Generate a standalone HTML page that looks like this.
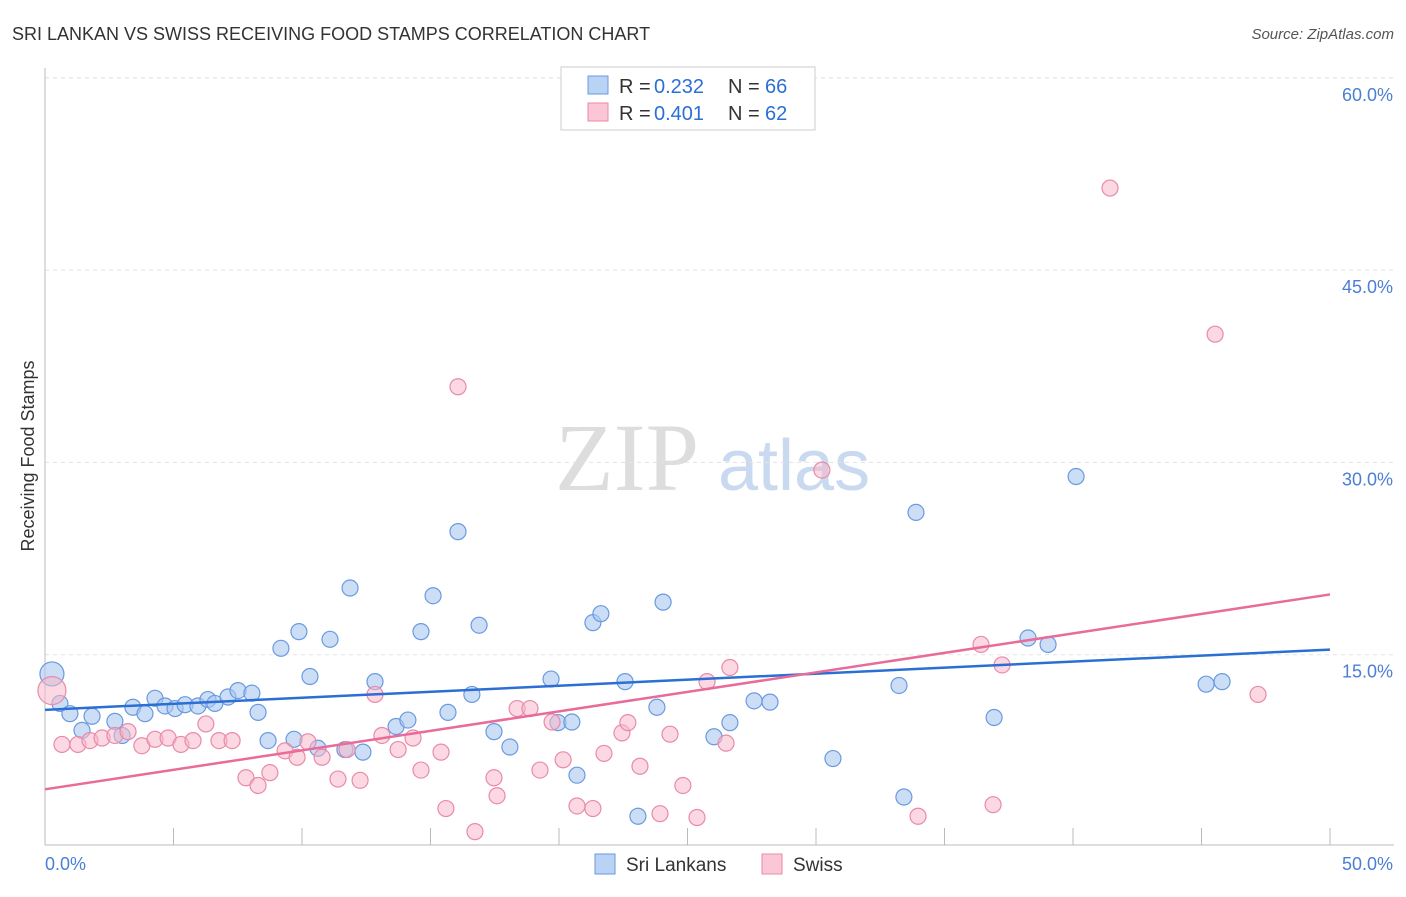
<!DOCTYPE html>
<html><head><meta charset="utf-8"><style>
body{margin:0;background:#fff;font-family:"Liberation Sans",sans-serif}
svg text{font-family:"Liberation Sans",sans-serif}
</style></head><body>
<svg id="chart" width="1406" height="892" xmlns="http://www.w3.org/2000/svg">
<text x="12" y="40" font-size="18" fill="#333">SRI LANKAN VS SWISS RECEIVING FOOD STAMPS CORRELATION CHART</text>
<text x="1394" y="39" font-size="15" fill="#555" text-anchor="end" font-style="italic">Source: ZipAtlas.com</text>
<text x="555" y="490" font-size="96" fill="#ddd" style="font-family:'Liberation Serif',serif">ZIP</text>
<text x="718" y="490" font-size="72" fill="#c8d9f0">atlas</text>
<text transform="translate(34,456) rotate(-90)" font-size="18" fill="#333" text-anchor="middle">Receiving Food Stamps</text>
<g id="grid"></g><g id="pts"></g><g id="lines"></g>
<g>
<rect x="561" y="67" width="254" height="63" fill="#fff" stroke="#ccc"/>
<rect x="588" y="76" width="20" height="18" fill="#b9d3f5" stroke="#6a9ae0"/>
<rect x="588" y="103" width="20" height="18" fill="#fbc6d6" stroke="#e88aab"/>
<text x="619" y="93" font-size="20" fill="#333">R = </text><text x="654" y="93" font-size="20" fill="#2b6fd4">0.232</text>
<text x="728" y="93" font-size="20" fill="#333">N = </text><text x="765" y="93" font-size="20" fill="#2b6fd4">66</text>
<text x="619" y="120" font-size="20" fill="#333">R = </text><text x="654" y="120" font-size="20" fill="#2b6fd4">0.401</text>
<text x="728" y="120" font-size="20" fill="#333">N = </text><text x="765" y="120" font-size="20" fill="#2b6fd4">62</text>
</g>
<g>
<rect x="595" y="854" width="20" height="20" fill="#b9d3f5" stroke="#6a9ae0"/>
<text x="626" y="871" font-size="19" fill="#333">Sri Lankans</text>
<rect x="762" y="854" width="20" height="20" fill="#fbc6d6" stroke="#e88aab"/>
<text x="793" y="871" font-size="19" fill="#333">Swiss</text>
</g>
</svg>
<script>
const yTicks=[15,30,45,60];
const yTickLabels=["15.0%","30.0%","45.0%","60.0%"];
const xTickLabels=["0.0%","50.0%"];
const blueX=[0.27,0.58,0.97,1.83,1.44,2.72,3.0,3.42,3.89,4.28,4.67,5.06,5.45,5.95,6.34,6.61,7.12,7.51,8.05,8.29,8.68,9.18,9.69,9.88,10.31,10.62,11.09,11.67,11.87,12.37,12.84,13.66,14.12,14.63,15.1,15.68,16.07,16.61,16.89,17.47,18.09,19.69,19.96,20.5,20.7,21.32,21.63,22.57,23.07,23.81,24.05,26.03,26.65,27.59,28.21,30.66,33.23,33.42,33.89,36.93,38.25,39.03,40.12,45.18,45.8];
const blueY=[13.5,11.2,10.4,10.2,9.1,9.8,8.7,10.9,10.4,11.6,11.0,10.8,11.1,11.0,11.5,11.2,11.7,12.2,12.0,10.5,8.3,15.5,8.4,16.8,13.3,7.7,16.2,7.6,20.2,7.4,12.9,9.4,9.9,16.8,19.6,10.5,24.6,11.9,17.3,9.0,7.8,13.1,9.7,9.75,5.6,17.5,18.2,12.9,2.4,10.9,19.1,8.6,9.7,11.4,11.3,6.9,12.6,3.9,26.1,10.1,16.3,15.8,28.9,12.7,12.9];
const pinkX=[0.27,0.66,1.28,1.75,2.22,2.72,3.23,3.77,4.28,4.79,5.29,5.76,6.26,6.77,7.28,7.82,8.29,8.75,9.34,9.81,10.23,10.78,11.4,11.75,12.26,12.84,13.11,13.74,14.32,14.63,15.41,15.6,16.07,16.73,17.47,17.59,18.37,18.87,19.26,19.73,20.16,20.7,21.32,21.75,22.45,22.68,23.15,23.93,24.32,24.82,25.37,25.76,26.5,26.65,30.23,33.97,36.42,36.89,37.24,41.44,45.53,47.2];
const pinkY=[12.2,8.0,8.0,8.3,8.5,8.7,9.0,7.9,8.4,8.5,8.0,8.3,9.6,8.3,8.3,5.4,4.8,5.8,7.5,7.0,8.2,7.0,5.3,7.6,5.2,11.9,8.7,7.6,8.5,6.0,7.4,3.0,35.9,1.2,5.4,4.0,10.8,10.8,6.0,9.75,6.8,3.2,3.0,7.3,8.9,9.7,6.3,2.6,8.8,4.8,2.3,12.9,8.1,14.0,29.4,2.4,15.8,3.3,14.2,51.4,40.0,11.9];
const blueTrend=[10.7,15.4];
const pinkTrend=[4.5,19.7];
const NS="http://www.w3.org/2000/svg";
const X=v=>45+v/50*1285, Y=v=>847-v*12.82;
function mk(t,a,p){const e=document.createElementNS(NS,t);for(const k in a)e.setAttribute(k,a[k]);p.appendChild(e);return e;}
const g=document.getElementById('grid');
yTicks.forEach((t,i)=>{
 const l=mk('line',{x1:45,x2:1394,y1:Y(t),y2:Y(t),stroke:'#e3e3e3','stroke-dasharray':'4,4'},g);
 
 
 const tx=mk('text',{x:1393,y:Y(t)+23,'font-size':18,fill:'#4a7fd4','text-anchor':'end'},g);
 tx.textContent=yTickLabels[i];
 
 
});
const topLine=mk('line',{x1:45,x2:1394,y1:78,y2:78,stroke:'#e3e3e3','stroke-dasharray':'4,4'},g);


const ya=mk('line',{x1:45,x2:45,y1:68,y2:845,stroke:'#bbb'},g);


const xa=mk('line',{x1:45,x2:1394,y1:845,y2:845,stroke:'#bbb'},g);


for(let i=0;i<=10;i++){const t=mk('line',{x1:X(i*5),x2:X(i*5),y1:828,y2:845,stroke:'#bbb'},g);
 
 }
const xl0=mk('text',{x:45,y:870,'font-size':18,fill:'#4a7fd4'},g);xl0.textContent=xTickLabels[0];


const xl1=mk('text',{x:1393,y:870,'font-size':18,fill:'#4a7fd4','text-anchor':'end'},g);xl1.textContent=xTickLabels[1];


const p=document.getElementById('pts');
blueX.forEach((x,i)=>{const c=mk('circle',{cx:X(x),cy:Y(blueY[i]),r:i==0?12:8,fill:'rgba(169,200,240,0.6)',stroke:'#6a9ae0','stroke-width':1.2},p);
 
 });
pinkX.forEach((x,i)=>{const c=mk('circle',{cx:X(x),cy:Y(pinkY[i]),r:i==0?14:8,fill:'rgba(247,184,203,0.55)',stroke:'#e88aab','stroke-width':1.2},p);
 
 });
const L=document.getElementById('lines');
const bl=mk('line',{x1:X(0),y1:Y(blueTrend[0]),x2:X(50),y2:Y(blueTrend[1]),stroke:'#2b6fd4','stroke-width':2.5},L);


const pl=mk('line',{x1:X(0),y1:Y(pinkTrend[0]),x2:X(50),y2:Y(pinkTrend[1]),stroke:'#e86b99','stroke-width':2.5},L);


</script>
</body></html>
